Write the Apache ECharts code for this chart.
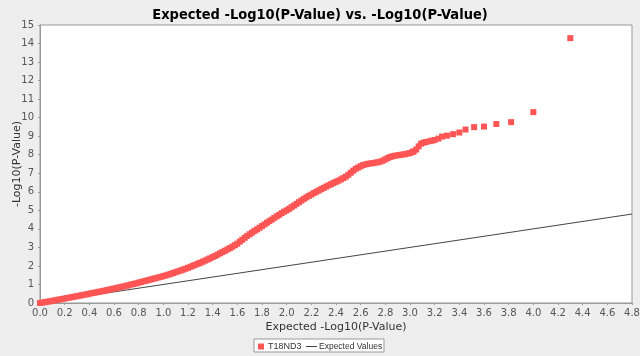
<!DOCTYPE html>
<html><head><meta charset="utf-8">
<script src="https://cdn.jsdelivr.net/npm/echarts@6/dist/echarts.min.js"></script>
<style>html,body{margin:0;padding:0;background:#eeeeee}#c{width:640px;height:356px}</style>
</head><body><div id="c"></div>
<script>
const titleText = 'Expected -Log10(P-Value) vs. -Log10(P-Value)';
const xAxisName = 'Expected -Log10(P-Value)';
const yAxisName = '-Log10(P-Value)';
const seriesNames = ['T18ND3', 'Expected Values'];

// observed points (expected -log10 p, observed -log10 p)
const obsX = [
  0.00,0.02,0.04,0.06,0.08,0.10,0.12,0.14,0.16,0.18,0.20,0.22,0.24,0.26,0.28,0.30,0.32,0.34,0.36,0.38,
  0.40,0.42,0.44,0.46,0.48,0.50,0.52,0.54,0.56,0.58,0.60,0.62,0.64,0.66,0.68,0.70,0.72,0.74,0.76,0.78,
  0.80,0.82,0.84,0.86,0.88,0.90,0.92,0.94,0.96,0.98,1.00,1.02,1.04,1.06,1.08,1.10,1.12,1.14,1.16,1.18,
  1.20,1.22,1.24,1.26,1.28,1.30,1.32,1.34,1.36,1.38,1.40,1.42,1.44,1.46,1.48,1.50,1.52,1.54,1.56,1.58,
  1.60,1.62,1.64,1.66,1.68,1.70,1.72,1.74,1.76,1.78,1.80,1.82,1.84,1.86,1.88,1.90,1.92,1.94,1.96,1.98,
  2.00,2.02,2.04,2.06,2.08,2.10,2.12,2.14,2.16,2.18,2.20,2.22,2.24,2.26,2.28,2.30,2.32,2.34,2.36,2.38,
  2.40,2.42,2.44,2.46,2.48,2.50,2.52,2.54,2.56,2.58,2.60,2.62,2.64,2.66,2.68,2.70,2.72,2.74,2.76,2.78,
  2.80,2.82,2.84,2.86,2.88,2.90,2.92,2.94,2.96,2.98,3.00,3.02,3.03,3.05,3.07,3.09,3.11,3.13,3.16,3.18,
  3.20,3.23,3.26,3.30,3.35,3.40,3.45,3.52,3.60,3.70,3.82,4.00,4.30];
const obsY = [
  0.00,0.02,0.05,0.07,0.09,0.12,0.14,0.17,0.19,0.22,0.24,0.27,0.29,0.32,0.34,0.37,0.39,0.42,0.45,0.47,
  0.50,0.53,0.55,0.58,0.61,0.63,0.66,0.69,0.72,0.75,0.78,0.81,0.84,0.87,0.90,0.93,0.96,1.00,1.03,1.06,
  1.10,1.13,1.17,1.20,1.24,1.27,1.31,1.34,1.38,1.41,1.45,1.49,1.53,1.57,1.62,1.66,1.71,1.75,1.80,1.85,
  1.90,1.95,2.01,2.06,2.12,2.17,2.23,2.29,2.35,2.41,2.48,2.54,2.61,2.68,2.75,2.82,2.89,2.96,3.04,3.12,
  3.20,3.31,3.41,3.52,3.62,3.71,3.80,3.89,3.97,4.06,4.15,4.24,4.33,4.42,4.50,4.59,4.68,4.76,4.85,4.93,
  5.00,5.08,5.17,5.26,5.35,5.44,5.53,5.62,5.70,5.78,5.85,5.93,6.00,6.07,6.14,6.21,6.28,6.35,6.41,6.48,
  6.54,6.60,6.67,6.74,6.82,6.92,7.03,7.14,7.24,7.31,7.38,7.44,7.48,7.51,7.53,7.55,7.57,7.60,7.63,7.68,
  7.75,7.82,7.88,7.92,7.95,7.97,7.99,8.01,8.03,8.06,8.09,8.15,8.18,8.28,8.45,8.60,8.65,8.69,8.73,8.76,
  8.80,8.87,8.98,9.03,9.11,9.20,9.36,9.49,9.52,9.66,9.76,10.30,14.29];
// expected line
const expX = [0, 4.8];
const expY = [0, 4.8];

const obsData = obsX.map((x, i) => [x, obsY[i]]);
const expData = expX.map((x, i) => [x, expY[i]]);

const chart = echarts.init(document.getElementById('c'), null, {renderer: 'canvas'});
const labelFont = {color: '#555', fontSize: 10, fontFamily: 'DejaVu Sans'};
chart.setOption({
  backgroundColor: '#eeeeee',
  animation: false,
  title: {text: titleText, left: 'center', top: 3,
    textStyle: {fontFamily: 'DejaVu Sans Condensed', fontWeight: 'bold', fontSize: 14.5, color: '#000'}},
  grid: {left: 40, right: 8, top: 25, bottom: 53, containLabel: false, outerBoundsMode: 'none',
    show: true, backgroundColor: '#fff', borderColor: '#999', borderWidth: 1},
  xAxis: {type: 'value', min: 0, max: 4.8, interval: 0.2,
    name: xAxisName, nameLocation: 'middle', nameGap: 19, nameMoveOverlap: false,
    nameTextStyle: {color: '#333', fontSize: 11, fontFamily: 'DejaVu Sans'},
    axisLine: {show: true, lineStyle: {color: '#999'}},
    axisTick: {show: true, length: 2, lineStyle: {color: '#999'}},
    axisLabel: Object.assign({margin: 5, formatter: v => v.toFixed(1)}, labelFont),
    splitLine: {show: false}},
  yAxis: {type: 'value', min: 0, max: 15, interval: 1,
    name: yAxisName, nameLocation: 'middle', nameGap: 17, nameMoveOverlap: false,
    nameTextStyle: {color: '#333', fontSize: 11, fontFamily: 'DejaVu Sans'},
    axisLine: {show: true, lineStyle: {color: '#999'}},
    axisTick: {show: true, length: 2, lineStyle: {color: '#999'}},
    axisLabel: Object.assign({margin: 6}, labelFont),
    splitLine: {show: false}},
  graphic: [{type: 'rect', z: 0, shape: {x: 254, y: 339, width: 130, height: 13},
    style: {fill: '#fff', stroke: '#999', lineWidth: 1}}],
  legend: [
    {data: [{name: seriesNames[0], icon: 'rect'}], left: 258, top: 342, itemWidth: 6, itemHeight: 6, itemGap: 4,
      padding: 0, textStyle: {fontSize: 9, color: '#333', fontFamily: 'Liberation Sans', padding: [0,0,0,-1]}},
    {data: [{name: seriesNames[1], icon: 'rect', itemStyle: {color: '#444'}}], left: 306, top: 342, itemWidth: 11, itemHeight: 1,
      padding: 0, textStyle: {fontSize: 8.5, color: '#333', fontFamily: 'Liberation Sans', padding: [0,0,0,-3]}}
  ],
  series: [
    {name: seriesNames[1], type: 'line', data: expData, symbol: 'none', z: 2,
      lineStyle: {color: '#444', width: 1}, itemStyle: {color: '#444'}},
    {name: seriesNames[0], type: 'scatter', data: obsData, symbol: 'rect', symbolSize: 6, z: 3,
      itemStyle: {color: '#ff5555', opacity: 1}}
  ]
});
</script></body></html>
